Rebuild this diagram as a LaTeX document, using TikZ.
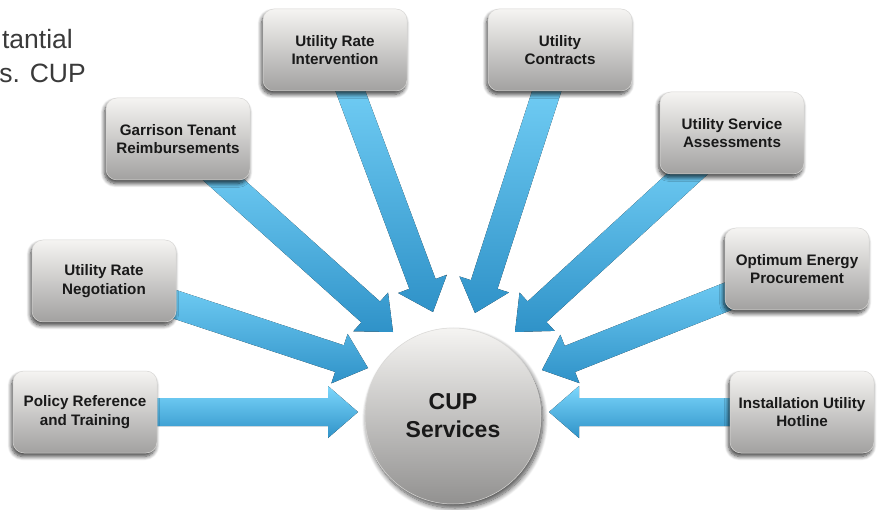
\documentclass[tikz,border=0pt]{standalone}
\usepackage{fontspec}
\setmainfont{Liberation Sans}
\usetikzlibrary{calc,shadows.blur}
\definecolor{boxtop}{HTML}{F5F4F2}
\definecolor{boxbot}{HTML}{A2A1A0}
\definecolor{boxedge}{HTML}{D9D8D6}
\definecolor{arrtop}{HTML}{7CD7FC}
\definecolor{arrbot}{HTML}{2F92C8}
\definecolor{txtgray}{HTML}{3A3A3A}
\pgfdeclarelayer{bg}
\pgfsetlayers{bg,main}
\tikzset{
  box/.style={rounded corners=11pt, minimum width=144pt, minimum height=82pt,
    top color=boxtop, bottom color=boxbot, draw=boxedge, line width=0.5pt,
    align=center, text=black!90,
    font={\fontsize{15.2}{18.5}\selectfont\bfseries},
    blur shadow={shadow xshift=-1.5pt, shadow yshift=-3.5pt, shadow blur steps=8,
      shadow blur radius=4pt, shadow opacity=75}},
  hub/.style={circle, minimum size=176pt, inner sep=0pt,
    top color=boxtop, bottom color=boxbot!90!black, draw=boxedge, line width=0.5pt,
    align=center, text=black!90,
    font={\fontsize{23}{28}\selectfont\bfseries},
    blur shadow={shadow xshift=2pt, shadow yshift=-4pt, shadow blur steps=10,
      shadow blur radius=5pt, shadow opacity=70}},
  fatarrow/.style={top color=arrtop, bottom color=arrbot},
  slide/.style={text=txtgray, font={\fontsize{26.5}{34}\selectfont}, inner sep=0pt}
}
\newcommand\fatarrow[2]{%
  \fill[fatarrow]
    ($(#1.center)!14pt!90:(#2)$) --
    ($($(#2)!30pt!(#1.center)$)!14pt!90:(#2)$) --
    ($($(#2)!30pt!(#1.center)$)!26pt!90:(#2)$) --
    (#2) --
    ($($(#2)!30pt!(#1.center)$)!26pt!-90:(#2)$) --
    ($($(#2)!30pt!(#1.center)$)!14pt!-90:(#2)$) --
    ($(#1.center)!14pt!-90:(#2)$) -- cycle;}
\begin{document}
\begin{tikzpicture}[x=1pt,y=-1pt]
\useasboundingbox (0,0) rectangle (880,510);
% partial slide text
\node[slide, anchor=base east] (s1) at (73,49) {tantial};
\node[slide, anchor=base east] (s2) at (86,83) {s. CUP};
% hub
\node[hub] (cup) at (453,416) {CUP\\Services};
% boxes
\node[box] (pol) at (85,412)  {Policy Reference\\and Training};
\node[box] (neg) at (104,281) {Utility Rate\\Negotiation};
\node[box] (gar) at (178,139) {Garrison Tenant\\Reimbursements};
\node[box] (int) at (335,50)  {Utility Rate\\Intervention};
\node[box] (con) at (560,50)  {Utility\\Contracts};
\node[box] (ass) at (732,133) {Utility Service\\Assessments};
\node[box] (opt) at (797,269) {Optimum Energy\\Procurement};
\node[box] (hot) at (802,412) {Installation Utility\\Hotline};
% arrow tips
\coordinate (tpol) at (358,412);
\coordinate (tneg) at (368,368);
\coordinate (tgar) at (393,332);
\coordinate (tint) at (433,312);
\coordinate (tcon) at (475,313);
\coordinate (tass) at (515,332);
\coordinate (topt) at (542,370);
\coordinate (thot) at (549,412);
\begin{pgfonlayer}{bg}
\fatarrow{pol}{tpol}
\fatarrow{neg}{tneg}
\fatarrow{gar}{tgar}
\fatarrow{int}{tint}
\fatarrow{con}{tcon}
\fatarrow{ass}{tass}
\fatarrow{opt}{topt}
\fatarrow{hot}{thot}
\end{pgfonlayer}
\end{tikzpicture}
\end{document}
